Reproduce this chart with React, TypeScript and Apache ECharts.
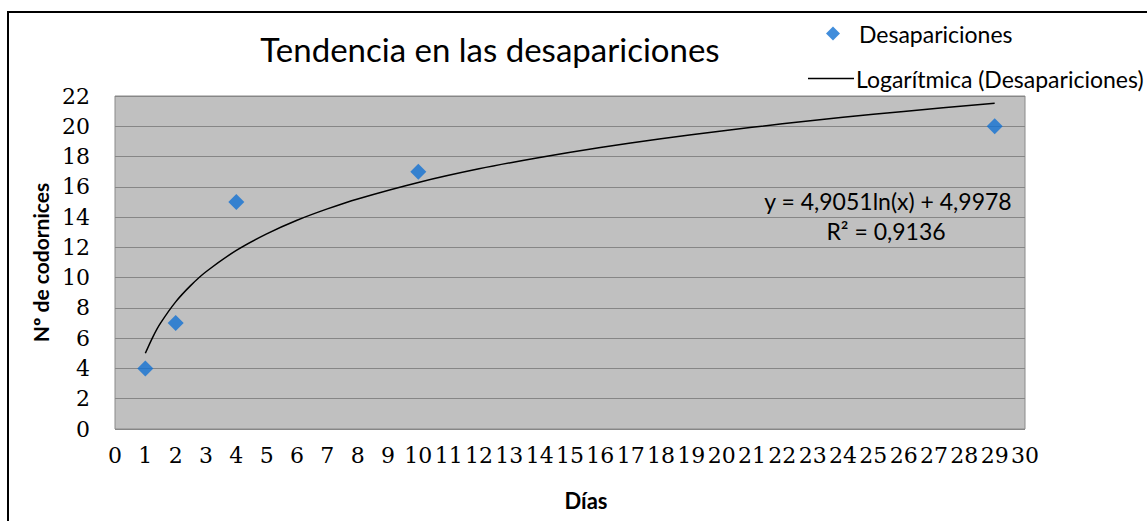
import React, { useEffect, useRef } from "react";
import * as echarts from "echarts";

const chartTitle = "Tendencia en las desapariciones";
const xAxisName = "Días";
const yAxisName = "Nº de codornices";
const scatterName = "Desapariciones";
const trendName = "Logarítmica (Desapariciones)";
const equationLines = ["y = 4,9051ln(x) + 4,9978", "R² = 0,9136"];

// observed points (day, count)
const days = [1, 2, 4, 10, 29];
const counts = [4, 7, 15, 17, 20];

// trendline (day, value)
const trendDays = [1, 1.25, 1.5, 2, 2.5, 3, 4, 5, 6, 7, 8, 10, 12, 14, 16, 18, 20, 22, 24, 26, 29];
const trendValues = [5.0, 6.09, 6.99, 8.4, 9.49, 10.39, 11.8, 12.89, 13.79, 14.54, 15.2, 16.29, 17.19, 17.94, 18.6, 19.18, 19.69, 20.16, 20.59, 20.98, 21.52];

const SANS = "Lato, 'Open Sans', sans-serif";
const SERIF = "'DejaVu Serif', serif";

export default function App() {
  const ref = useRef<HTMLDivElement>(null);
  useEffect(() => {
    if (!ref.current) return;
    const chart = echarts.init(ref.current, undefined, { renderer: "svg" });
    chart.setOption({
      animation: false,
      backgroundColor: "#ffffff",
      title: {
        text: chartTitle,
        left: 485,
        top: 27,
        textAlign: "center",
        textStyle: { fontFamily: SANS, fontSize: 33, fontWeight: "normal", color: "#000" },
      },
      legend: [
        {
          data: [{ name: scatterName, icon: "diamond" }],
          left: 821,
          top: 17,
          itemWidth: 14,
          itemHeight: 14,
          textStyle: { fontFamily: SANS, fontSize: 23, color: "#000", padding: [0, 0, 0, 14] },
        },
        {
          data: [{ name: trendName, icon: "rect" }],
          left: 803,
          top: 62,
          itemWidth: 46,
          itemHeight: 1.5,
          itemGap: 0,
          textStyle: { fontFamily: SANS, fontSize: 23, color: "#000", padding: [0, 0, 0, -3] },
        },
      ],
      grid: { left: 115, top: 96, width: 910, height: 333, show: true, backgroundColor: "#c0c0c0", borderColor: "#8a8a8a", borderWidth: 1 },
      xAxis: {
        type: "value",
        min: 0,
        max: 30,
        interval: 1,
        name: xAxisName,
        nameLocation: "middle",
        nameGap: 60,
        nameTextStyle: { fontFamily: SANS, fontSize: 22, fontWeight: "bold", color: "#000", padding: [0, 0, 0, 32] },
        axisLine: { show: false },
        axisTick: { show: false },
        splitLine: { show: false },
        axisLabel: { margin: 15, fontFamily: SERIF, fontSize: 22, color: "#000" },
      },
      yAxis: {
        type: "value",
        min: 0,
        max: 22,
        interval: 2,
        name: yAxisName,
        nameLocation: "middle",
        nameGap: 67,
        nameRotate: 90,
        nameTextStyle: { fontFamily: SANS, fontSize: 21, fontWeight: "bold", color: "#000", verticalAlign: "middle" },
        axisLine: { show: false },
        axisTick: { show: false },
        splitLine: { show: true, lineStyle: { color: "#868686", width: 1 } },
        axisLabel: { margin: 25, fontFamily: SERIF, fontSize: 22, color: "#000" },
      },
      series: [
        {
          name: trendName,
          type: "line",
          data: trendDays.map((d, i) => [d, trendValues[i]]),
          smooth: 0.3,
          symbol: "none",
          lineStyle: { color: "#000", width: 1.5 },
          itemStyle: { color: "#000" },
          z: 2,
        },
        {
          name: scatterName,
          type: "scatter",
          data: days.map((d, i) => [d, counts[i]]),
          symbol: "diamond",
          symbolSize: [16, 16],
          itemStyle: { color: "#1170d2" },
          z: 3,
        },
      ],
      graphic: [
        {
          type: "rect",
          shape: { x: 8, y: 12, width: 1200, height: 600 },
          style: { fill: "none", stroke: "#000", lineWidth: 2 },
          silent: true,
        },
        {
          type: "text",
          x: 888,
          y: 201,
          style: { text: equationLines[0], fontFamily: SANS, fontSize: 23, fill: "#000", align: "center", verticalAlign: "middle" },
          z: 10,
        },
        {
          type: "text",
          x: 886,
          y: 231,
          style: { text: equationLines[1], fontFamily: SANS, fontSize: 23, fill: "#000", align: "center", verticalAlign: "middle" },
          z: 10,
        },
      ],
    });
    return () => chart.dispose();
  }, []);
  return <div ref={ref} style={{ position: "fixed", left: 0, top: 0, width: 1147, height: 521 }} />;
}
